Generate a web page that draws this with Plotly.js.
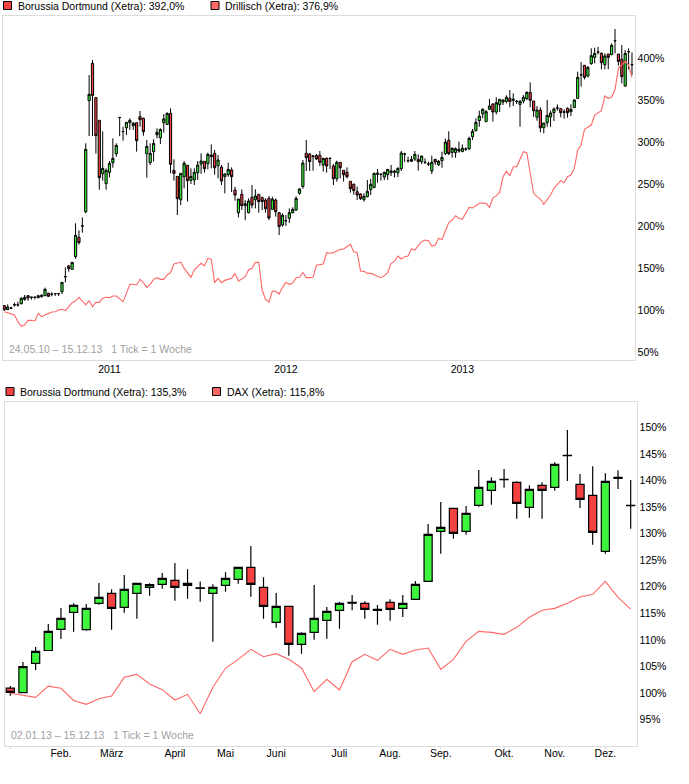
<!DOCTYPE html>
<html><head><meta charset="utf-8">
<script src="https://cdn.plot.ly/plotly-3.0.1.min.js"></script>
<style>html,body{margin:0;padding:0;background:#fff}</style></head>
<body><div id="chart" style="width:689px;height:784px"></div>
<script>
const topOpen=[105.2,100.4,102,106,106,107.5,112.7,117,115,115,
114.7,115.9,117,119.8,118.6,119.4,119.4,121.8,139.5,152.4,
148.4,163.5,186.5,200,217,349.2,393.6,352.8,325.8,262.3,
250.4,263.9,275.4,286.1,329,312.3,317,323,319.4,323,
330.2,328.2,286.1,275.4,288.5,308.7,305.1,323,321,334.1,
266.3,259.1,231.3,258.7,272.2,254.4,254.8,263.5,273.8,277,
274.2,282.5,286.5,271.8,270.2,258.7,261.1,266.7,242.8,215.9,
237.7,224.2,215.9,234.1,231.3,237.7,233.7,230.9,232.9,219.8,
230.9,215.9,201.2,206.2,209.1,215.9,219,238.9,247,286.5,
285.7,282.5,284.1,284.1,272.6,280.5,280.4,271.4,256.3,275.8,
266.3,263.9,253.2,249.6,240.9,238.1,231.3,234.9,243.2,246,
261.5,261.4,258.3,261.1,263.5,263.9,263.5,268.2,285.6,277.7,
277,279.8,279.4,276.6,275.7,273.7,265.5,279.4,273,277.8,
286.1,302,287.7,287.3,289.3,288.5,291.6,291.7,306.3,313.5,
325.4,333.7,324.2,338.9,345.2,335.7,344.4,347.6,348.4,352,
349.6,348.3,344.8,348.8,351.6,359.1,348.8,329.4,338.1,317,
323,329.8,334.9,340.4,339.7,335.6,340.1,336.1,340.9,352,
380,391.3,378.6,393.2,400.8,407,405.5,392,404.7,403.9,
420.5,404.7,398.4,366.7,407.4,392.3];
const topClose=[100.4,103.6,102.2,106.2,106.2,113.9,115,114.3,115.2,115.2,
117,117.5,124.6,116.3,118.8,119.6,119.6,132.9,139.7,149.2,
156.7,188.9,180.2,200.2,291.3,356.7,355.5,307.5,257.5,268.6,
266.3,274.6,280.5,296,329.2,312.5,323.4,325.8,322.2,301.6,
326.6,312.3,294.8,286.5,298.4,311.5,315,327.4,334.1,273.4,
262.7,232.5,262.7,274.6,254,259,263.9,272.6,277.4,268.2,
285.3,284.5,269.4,278.6,253.6,261.9,267.4,258.7,236.9,232.1,
224.2,226.6,229.8,225,235.7,229,229,220.6,209.5,232.1,
217,199.2,212.7,206.3,215.9,219.8,232.9,244,275,281.3,
276.6,283.3,279.8,275.8,280.5,271.4,280.5,256.3,275.8,269.4,
261.1,258.7,244.4,242.1,236.9,232.5,235.3,241.3,249.6,262.7,
262.7,261.5,263.9,267.4,265.5,265.1,268.6,286.9,285.7,277.8,
279.4,285.3,276.6,283.3,275.8,273.8,275.8,276.2,277,281.7,
300,286.1,292.5,292,291.3,292.5,291.7,304.4,312.7,323.4,
330.9,338.9,336.1,342.8,335.7,346.8,350.8,350,353.2,348,
350.8,348.4,348.4,353.2,359.1,349.6,337.3,338.1,317,322.6,
331.7,334.5,339.3,340.5,334.9,335.7,334.9,338.9,350,377,
380.1,377,388.9,402.8,405.5,407.1,394.4,402.4,400.8,415,
420.6,396,377.8,405.5,407.5,392];
const topHigh=[106,106.7,104,108.7,109.9,115,117.9,117.9,115.9,115.9,
118,118.6,126.6,120.6,121,119.8,119.8,132.9,150.8,153.6,
156.7,203.2,194.8,210.3,298.4,379.7,397.6,352.8,325.8,312.7,
268.6,277.4,304.4,298.4,330,318.2,323.4,328.2,323.8,323,
336.9,329,302.4,298.4,303.2,316.3,316.3,333.3,335.3,340.1,
279.4,259.1,262.7,277.4,272.6,268.6,268.6,277.4,286.5,277.4,
287.3,297.2,290.5,284.5,272.6,262.7,275.4,269.8,246.8,232.1,
243.6,230.9,232.9,248.8,243.6,237.7,235,232.9,235.7,234.9,
232.9,215.9,215,213.1,221,222.2,235.3,244.8,278.6,302.4,
286.5,284.5,285.7,289.3,281.3,281.7,281.7,273.8,277.8,275.8,
266.3,269.8,253.2,250.8,246.8,238.9,238.9,254.8,256,263.5,
267.8,262.7,264.7,267.4,272.6,266.7,269.8,289.3,287.3,282.5,
283.3,289.3,285.3,283.7,280.5,276.6,283.7,279.8,278.6,288.5,
304,312.7,293.6,293.6,300.4,297.2,293.6,306.3,315.5,328.2,
337.3,340.1,338.1,351.2,346,353.2,350.8,350.8,355.5,361.9,
357.9,350,350,355.9,360.3,371,348.8,342.8,341.3,322.6,
350,337.3,341.3,344.8,340.5,338.9,341.3,344.8,350.8,383.7,
395.2,391.3,390.5,411.5,412.3,413.1,406.7,405.5,404.7,417.4,
434.5,404.7,415.5,409.5,411.5,406.7];
const topLow=[98.8,100,101.2,104,104,106.7,111,111,112.3,112.7,
113.9,114.7,116.7,115.5,116.3,116.7,116.7,119,132.9,145.6,
148.4,161.1,177.8,192,215,307.1,307.1,286.1,243.2,254,
243.2,257.9,269.4,282.5,307,301.6,308.3,314.3,314.3,288.5,
318.2,307.5,257.5,272.6,276.6,304.4,297.6,311.1,320.2,262.7,
254,213.1,225,244.8,229,250,248.8,254.8,262,263.5,
267.4,268.6,261.1,256.7,248.8,238.9,258.7,240.5,230.2,210.3,
219,207.1,215,221,221,215.9,219,215.9,207.1,219,
211.1,189.3,199.2,200,203.6,215,218.2,237.3,244.4,265.5,
265.5,265.9,278.6,271.4,264.7,263.5,267.9,248.8,252.8,256.7,
252.8,256.7,239.7,237.3,231,231,229,234.1,236.9,244.8,
251.6,254,254.8,254.8,259.5,257.9,258.3,265.5,276.2,275.4,
276.2,277.4,265.9,273.8,273.8,271.4,261.9,272.6,271.4,269.4,
284.5,284.5,281.3,281.3,287.3,288.1,289.3,290.9,302.4,312.7,
318.2,328.2,324.2,338.1,324.2,332.9,335.7,344,346,341.3,
342.8,345.2,318.2,346,350,341.3,330.1,325.4,311.5,310.3,
318.2,318.2,325,337.3,329.4,327.8,329,330.9,340.9,351.2,
365.9,374.6,377,392,393.6,404.3,386.5,386.5,386.5,403.5,
405.5,390.9,369.8,365.9,386.5,379.7];
const drillisch=[98,96.8,96,94,86.1,80.6,82.1,87.7,87.7,86.9,
96,92.1,94,96,97.6,98,100,100.8,99.2,104,
108.7,110.7,115.1,110.7,106,111.1,104,109.1,109.1,113.9,
115.1,114.7,116.7,116.7,113.1,109.9,119.8,130.6,130.6,129.8,
136.5,132.5,127,130.6,136.5,138.5,136.5,136.5,141.7,144.4,
154.8,155.6,157.1,149.6,144.4,138.9,147.6,151.6,155.6,152.4,
161.5,160.3,132.5,137.7,132.5,135.3,136.9,137.7,143.6,134.5,
136.9,139.7,147.6,149.6,156.7,156.7,123.8,112.7,109.5,122.6,
122.2,119,127,132.9,130.6,132.1,138.5,138.9,144.8,138.5,
138.5,138.9,153.2,154.4,154.8,168.3,167.5,168.3,170.2,172.2,
172.6,175.4,178.2,169.4,168.3,146.4,146,143.6,143.6,142.1,
140.5,138.5,140.9,144.4,155.6,157.9,164.3,160.7,163.5,164.3,
172.6,171.4,176.6,181.3,183.3,182.5,176.2,177.4,185.3,184.1,
194,204,207.1,212.3,209,208.3,215,222.2,221.4,224.2,
227,227.4,227,222.2,233.3,236.1,240,258.7,265.1,259.9,
270.6,270.6,278.6,288.5,287.3,262.7,238.9,234.9,232.1,225.8,
230.9,236.9,244.8,248.8,254,251.6,258.7,260.7,268.6,290.5,
296.4,315.1,317.4,320.2,332.1,334.9,337.3,354.8,352,353.2,
362.7,388,392,396,391.6,376.9];

const botOpen=[100.9,100.06,105.59,108,111.99,115.19,111.93,116.89,118.77,116.13,
118.77,119.9,120.46,121.2,120.28,119.8,118.77,120.28,121.4,123.67,
119.9,113.3,116.32,109.17,111.43,113.68,115.57,117.07,116.89,115.76,
117.07,115.94,117.64,121.03,130.45,134.78,130.45,135.34,138.17,140.2,
139.67,134.97,139.11,138.73,144.7,139.3,137.23,126.68,140.4,135.3];
const botClose=[100.1,104.96,107.85,111.6,114.06,116.5,115.94,118,115.94,119.52,
120.65,120.4,121.6,119.9,120.65,119.7,119.9,121.6,123.67,120.46,
116.32,116.32,109.17,111.24,114.06,115.38,116.89,116.9,115.76,115.57,
115.76,116.89,120.46,129.88,131.2,130.07,133.84,138.73,139.86,140.24,
135.72,138.36,138.17,143.06,144.76,136.47,130.26,139.86,140.6,135.34];
const botHigh=[101.3,105.84,108.66,113,116,116.89,116.76,120.7,119.52,122.2,
120.65,120.65,122.6,124.48,123.29,121,120.46,122.72,123.67,127.68,
121.78,118.83,116.32,111.43,120.34,116.2,117.14,118.46,117.26,116.57,
117.64,118.46,121.09,131.83,135.97,134.78,135.22,142,140.62,142.18,
139.86,139.11,139.67,143.44,149.53,141.24,142.69,141.37,141.93,140.11];
const botLow=[99.5,100.06,104.33,108,110.17,111.55,111.74,116.64,111.93,115.13,
114,118.33,119.65,117.39,117.76,117.2,109.67,119.08,120.59,118.14,
114,112.3,107.03,107.4,110.04,110.23,112.12,115.6,114,112.87,
113.62,114.31,117.64,121.03,126.24,129.06,129.82,135.09,135.47,138.67,
132.83,133.02,132.83,138.1,139.92,134.84,127.93,126.24,138.42,130.95];
const dax=[99.94,99.5,99.18,101.3,100.88,98.6,97.87,98.93,99.43,102.95,
103.5,101.7,100.63,98.68,99.75,96.1,101.07,104.65,106.34,108.22,
106.84,107.41,106.34,104.71,100.25,102.57,100.56,105.9,107.28,106.15,
108.22,107.28,108.1,108.47,104.46,106.34,109.73,111.6,111.42,111.05,
112.37,114.25,115.57,115.94,116.89,118.08,118.58,121.03,118.02,115.8];

const topYTicks=[50,100,150,200,250,300,350,400];
const botYTicks=[95,100,105,110,115,120,125,130,135,140,145,150];
const topXTicks=[31,83,135];
const topXLabels=['2011','2012','2013'];
const botXTicks=[0,4,8,13,17,21,26,30,34,39,43,47];
const botXLabels=['','Feb.','März','April','Mai','Juni','Juli','Aug.','Sep.','Okt.','Nov.','Dez.'];

const W=689,H=784;
const px=x=>x/W, py=y=>1-y/H;
const RED='#f44141',GREEN='#3cf53c',LINE='#ff6666',FRAME='#dcdcdc',FONT='"Liberation Sans",Arial,sans-serif',FS=10.5;
const idx=a=>a.map((_,i)=>i);
const candle=(o,h,l,c,xa,ya,lw)=>({type:'candlestick',x:idx(o),open:o,high:h,low:l,close:c,xaxis:xa,yaxis:ya,
  increasing:{fillcolor:GREEN,line:{color:'#000',width:lw}},decreasing:{fillcolor:RED,line:{color:'#000',width:lw}},
  whiskerwidth:0,hoverinfo:'skip',showlegend:false});
const line=(v,xa,ya)=>({type:'scatter',mode:'lines',x:idx(v),y:v,xaxis:xa,yaxis:ya,zindex:-1,
  line:{color:LINE,width:1.1},hoverinfo:'skip',showlegend:false});
const xax=(dom,range,vals,text,anchor,standoff)=>({domain:dom.map(px),range,type:'linear',tickmode:'array',tickvals:vals,ticktext:text,
  rangeslider:{visible:false},showgrid:false,zeroline:false,showline:true,mirror:true,linecolor:FRAME,linewidth:1,
  ticks:'outside',ticklen:2,tickcolor:FRAME,ticklabelstandoff:standoff,tickfont:{family:FONT,size:FS,color:'#000'},anchor,fixedrange:true});
const yax=(dom,range,vals,anchor)=>({domain:[py(dom[1]),py(dom[0])],range,side:'right',tickmode:'array',tickvals:vals,ticktext:vals.map(v=>v+'%'),
  showgrid:false,zeroline:false,showline:true,mirror:true,linecolor:FRAME,linewidth:1,ticks:'',tickfont:{family:FONT,size:FS,color:'#000'},anchor,fixedrange:true});
const ann=(text,x,y,color)=>({text,x:px(x),y:py(y),xref:'paper',yref:'paper',xanchor:'left',yanchor:'middle',showarrow:false,
  borderpad:0,font:{family:FONT,size:FS,color:color||'#000'}});
const swatch=(x0,y0,x1,y1,fill)=>({type:'rect',xref:'paper',yref:'paper',x0:px(x0),x1:px(x1),y0:py(y0),y1:py(y1),fillcolor:fill,line:{color:'#000',width:1}});

const layout={width:W,height:H,margin:{l:0,r:0,t:0,b:0},paper_bgcolor:'#fff',plot_bgcolor:'#fff',showlegend:false,boxgap:0.08,
  xaxis:xax([2.5,634.5],[-0.53,185.74],topXTicks,topXLabels,'y',-2),
  yaxis:yax([15.5,359.5],[41.07,450.6],topYTicks,'x'),
  xaxis2:xax([4.5,636.5],[-0.458,49.46],botXTicks,botXLabels,'y2',-4),
  yaxis2:yax([401.5,745.5],[90.11,154.9],botYTicks,'x2'),
  shapes:[swatch(3.5,1.5,11.5,9.5,RED),swatch(211,1.5,219,9.5,LINE),swatch(6,387.5,14,395.5,RED),swatch(212.5,387.5,220.5,395.5,LINE)],
  annotations:[ann('Borussia Dortmund (Xetra): 392,0%',16.5,6),ann('Drillisch (Xetra): 376,9%',223.5,6),
    ann('Borussia Dortmund (Xetra): 135,3%',18.5,392),ann('DAX (Xetra): 115,8%',226,392),
    ann('24.05.10 – 15.12.13   1 Tick = 1 Woche',7.5,349,'#a0a0a0'),ann('02.01.13 – 15.12.13   1 Tick = 1 Woche',9.5,735,'#a0a0a0')]};
Plotly.newPlot('chart',[line(drillisch,'x','y'),candle(topOpen,topHigh,topLow,topClose,'x','y',1),
  line(dax,'x2','y2'),candle(botOpen,botHigh,botLow,botClose,'x2','y2',1.2)],layout,{displayModeBar:false,staticPlot:true});
</script></body></html>
